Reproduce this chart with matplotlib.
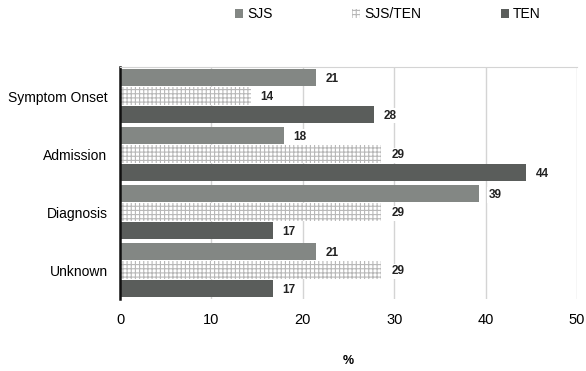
import numpy as np
import matplotlib
matplotlib.use('Agg')
from matplotlib import pyplot as plt

plt.rcParams['font.family'] = ['Liberation Sans', 'DejaVu Sans']
plt.rcParams['hatch.linewidth'] = 0.8

categories = ['Symptom Onset', 'Admission', 'Diagnosis', 'Unknown']
series = ['SJS', 'SJS/TEN', 'TEN']
# percentages per group (SJS n=28, SJS/TEN n=7, TEN n=18)
sjs = [21.4, 17.9, 39.3, 21.4]
sjs_ten = [14.3, 28.6, 28.6, 28.6]
ten = [27.8, 44.4, 16.7, 16.7]
labels_sjs = ['21', '18', '39', '21']
labels_sjs_ten = ['14', '29', '29', '29']
labels_ten = ['28', '44', '17', '17']
xticks = [0, 10, 20, 30, 40, 50]

fig = plt.figure(figsize=(5.86, 3.71), dpi=100)
ax = fig.add_axes([0.2048, 0.194, 0.78, 0.6254])

y = np.arange(len(categories))
h = 0.3
step = 0.315
styles = [
    dict(color='#838784'),
    dict(facecolor='white', edgecolor='#b8b8b8', hatch='++++', linewidth=0),
    dict(color='#5a5d5b'),
]
values = [sjs, sjs_ten, ten]
texts = [labels_sjs, labels_sjs_ten, labels_ten]
for i, (vals, txt, st) in enumerate(zip(values, texts, styles)):
    pos = y + (i - 1) * step
    ax.barh(pos, vals, height=h, label=series[i], zorder=2, **st)
    for p, v, t in zip(pos, vals, txt):
        ax.annotate(t, (v, p), xytext=(7, -1), textcoords='offset points',
                    ha='left', va='center', fontsize=8.5, fontweight='bold',
                    color='#222222', zorder=3,
                    bbox=dict(boxstyle='square,pad=0.15', fc='white', ec='none'))

ax.set_xlim(0, 50)
ax.set_ylim(3.5, -0.5)
ax.set_xticks(xticks)
ax.set_yticks(y)
ax.set_yticklabels(categories, fontsize=10)
ax.tick_params(axis='x', labelsize=10.5, length=0, pad=10)
ax.tick_params(axis='y', length=0, pad=9)
ax.grid(axis='x', color='#d4d4d4', linewidth=1, zorder=0)
ax.set_axisbelow(True)
for s in ('right', 'bottom'):
    ax.spines[s].set_visible(False)
ax.spines['top'].set_color('#d4d4d4')
ax.spines['left'].set_color('#111111')
ax.spines['left'].set_linewidth(1.8)
ax.set_xlabel('%', fontsize=9, fontweight='bold', labelpad=20)

fig.legend(loc='center', bbox_to_anchor=(0.662, 0.962), ncol=3, frameon=False,
           fontsize=10, handlelength=0.6, handleheight=0.6, handletextpad=0.3,
           columnspacing=5.7)

fig.savefig('out.png', dpi=100)
